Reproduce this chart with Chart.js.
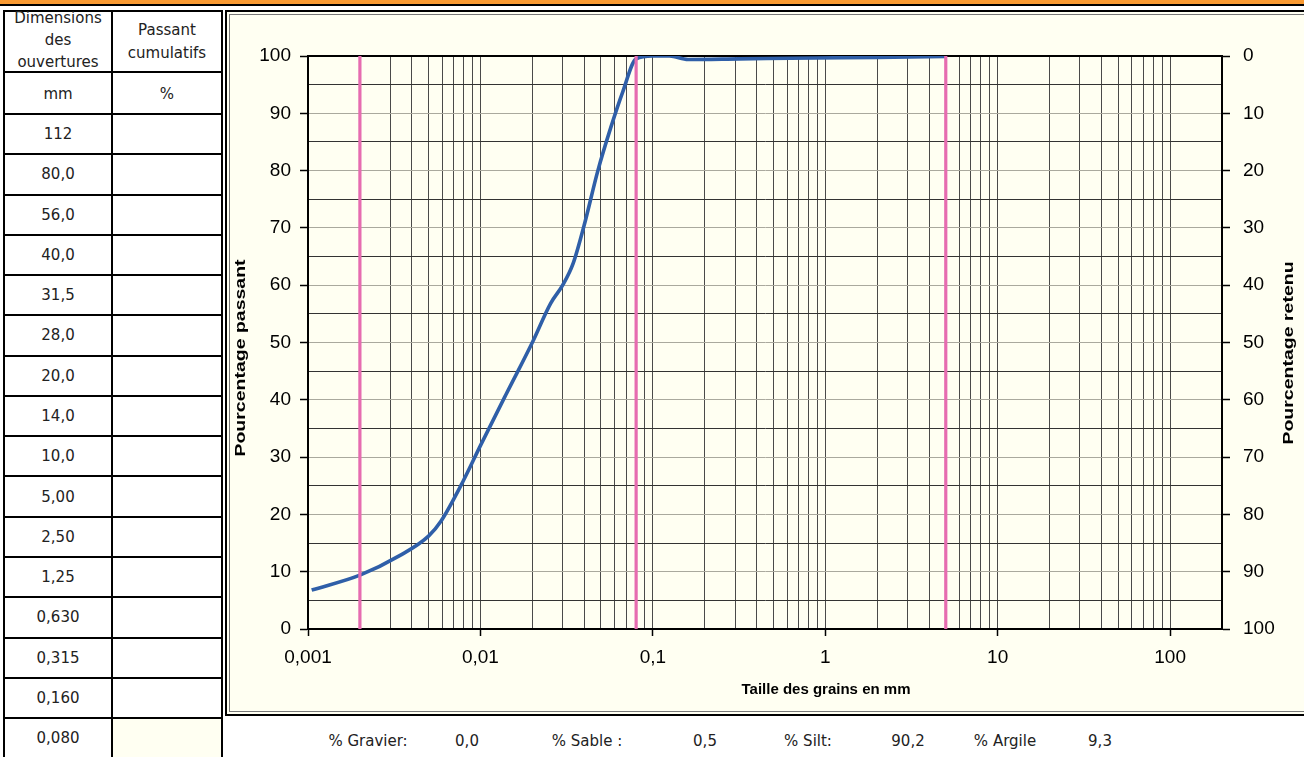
<!DOCTYPE html>
<html>
<head>
<meta charset="utf-8">
<script src="https://cdn.jsdelivr.net/npm/chart.js@4.4.1/dist/chart.umd.min.js"></script>
<style>
html,body{margin:0;padding:0;background:#fff;width:1304px;height:757px;overflow:hidden;position:relative;}
#banner{position:absolute;left:0;top:0;width:1304px;height:4px;background:#f99a32;border-bottom:2px solid #000;}
.hl{position:absolute;height:2px;background:#000;}
.vl{position:absolute;width:2px;background:#000;}
.cell{position:absolute;font-family:'DejaVu Sans',sans-serif;font-size:15px;color:#222;text-align:center;transform:translate(-50%,-50%);white-space:nowrap;line-height:22px;}
#box{position:absolute;left:225px;top:10px;width:1090px;height:702px;border:2px solid #000;background:#fffff2;}
#inner{position:absolute;left:2px;top:2px;right:2px;bottom:2px;border:1px solid #777;}
#c{position:absolute;left:232px;top:15px;}
.sum{position:absolute;top:741px;font-family:'DejaVu Sans',sans-serif;font-size:15px;color:#222;transform:translate(-50%,-50%);white-space:nowrap;}
</style>
</head>
<body>
<div id="banner"></div>
<div id="box"><div id="inner"></div></div>
<canvas id="c" width="1068" height="695"></canvas>
<div id="tbl"></div>
<div id="sumrow"></div>
<script>
// ---------- data ----------
const sieveSizes = ['112','80,0','56,0','40,0','31,5','28,0','20,0','14,0','10,0','5,00','2,50','1,25','0,630','0,315','0,160','0,080'];
const headerCol1 = ['Dimensions','des','ouvertures'];
const headerCol2 = ['Passant','cumulatifs'];
const unitRow = ['mm','%'];
const summaryLabels = ['% Gravier:','% Sable :','% Silt:','% Argile'];
const summaryValues = ['0,0','0,5','90,2','9,3'];

const grainSizes     = [0.00105,0.002,0.0034,0.005,0.0059,0.008,0.01,0.014,0.02,0.0255,0.03,0.0345,0.04,0.048,0.057,0.067,0.08,0.1,0.125,0.16,0.315,0.63,1.25,2.5,5];
const percentPassing = [6.8,9.4,12.8,16.2,18.8,26.0,32.0,40.8,50.0,56.8,60.0,63.8,70.5,80.0,87.5,93.8,99.5,100,100,99.4,99.5,99.6,99.7,99.8,99.9];
const limitSizes = [0.002,0.08,5];

const xDecades = [0.001,0.01,0.1,1,10,100];
const xDecadeLabels = ['0,001','0,01','0,1','1','10','100'];
const xMultipliers = [1,2,3,4,5,6,7,8,9];
const yLeftTicks = [0,10,20,30,40,50,60,70,80,90,100];
const xTitle = 'Taille des grains en mm';
const yLeftTitle = 'Pourcentage passant';
const yRightTitle = 'Pourcentage retenu';

// ---------- table ----------
const tbl = document.getElementById('tbl');
function add(cls, style, text){const d=document.createElement('div');d.className=cls;Object.assign(d.style,style);if(text!==undefined)d.innerHTML=text;tbl.appendChild(d);return d;}
const rowLines=[11,72,114];
const rowH=40.27;
for(let k=1;k<sieveSizes.length;k++) rowLines.push(114+k*rowH);
rowLines.forEach(y=>add('hl',{left:'3px',top:(y-1)+'px',width:'220px'}));
[3,111,221].forEach(x=>add('vl',{left:x+'px',top:'10px',height:'747px'}));
const lastTop = 114+(sieveSizes.length-1)*rowH;
add('',{position:'absolute',left:'113px',top:(lastTop+1)+'px',width:'108px',height:(757-lastTop)+'px',background:'#fffff2'});
const c1=58, c2=167;
add('cell',{left:c1+'px',top:'40px',lineHeight:'22px'},headerCol1.join('<br>'));
add('cell',{left:c2+'px',top:'42px',lineHeight:'23px'},headerCol2.join('<br>'));
add('cell',{left:c1+'px',top:'94px'},unitRow[0]);
add('cell',{left:c2+'px',top:'94px'},unitRow[1]);
sieveSizes.forEach((s,i)=>{const top=114+i*rowH;add('cell',{left:c1+'px',top:(top+rowH/2)+'px'},s);});

// ---------- summary row ----------
const sr=document.getElementById('sumrow');
const sumLabelX=[368,587,808,1005], sumValX=[467,705,908,1100];
summaryLabels.forEach((t,i)=>{
  const a=document.createElement('div');a.className='sum';a.style.left=sumLabelX[i]+'px';a.textContent=t;sr.appendChild(a);
  const b=document.createElement('div');b.className='sum';b.style.left=sumValX[i]+'px';b.textContent=summaryValues[i];sr.appendChild(b);
});

// ---------- chart ----------
const xGridValues=[];
xDecades.forEach(d=>xMultipliers.forEach(m=>{const v=+(d*m).toPrecision(6); if(v<=200) xGridValues.push(v);}));
xGridValues.push(200);
function decadeIndex(v){for(let i=0;i<xDecades.length;i++){if(Math.abs(v/xDecades[i]-1)<1e-6)return i;}return -1;}

const FONT='"Liberation Sans", Arial, sans-serif';
const curve = grainSizes.map((d,i)=>({x:d,y:percentPassing[i]}));
const pinkSets = limitSizes.map(s=>({
  data:[{x:s,y:0},{x:s,y:100}], borderColor:'#e66cb0', borderWidth:3.2, pointRadius:0, order:0, tension:0
}));

const framePlugin={
  id:'frame',
  beforeDatasetsDraw(chart){
    const {ctx,chartArea:a}=chart;
    ctx.save();ctx.strokeStyle='#000';ctx.lineWidth=2;
    ctx.beginPath();ctx.moveTo(a.left,a.top);ctx.lineTo(a.right,a.top);ctx.stroke();
    ctx.restore();
  },
  afterDraw(chart){
    const {ctx}=chart;
    ctx.save();
    ctx.fillStyle='#000';ctx.textAlign='center';ctx.textBaseline='middle';
    ctx.font='bold 15px '+FONT;
    ctx.fillText(xTitle, 826-232, 690-15);
    ctx.save();ctx.translate(241-232,358-15);ctx.rotate(-Math.PI/2);ctx.scale(1.3,1);ctx.fillText(yLeftTitle,0,0);ctx.restore();
    ctx.save();ctx.translate(1289-232,353-15);ctx.rotate(-Math.PI/2);ctx.scale(1.3,1);ctx.fillText(yRightTitle,0,0);ctx.restore();
    ctx.restore();
  }
};

new Chart(document.getElementById('c'),{
  type:'line',
  data:{datasets:[
    {data:curve,borderColor:'#2f5fa8',borderWidth:3.6,pointRadius:0,cubicInterpolationMode:'monotone',order:1},
    ...pinkSets
  ]},
  options:{
    responsive:false,animation:false,devicePixelRatio:1,
    layout:{padding:{top:41,left:0,right:0,bottom:0}},
    plugins:{legend:{display:false},tooltip:{enabled:false}},
    scales:{
      x:{type:'logarithmic',position:'bottom',min:0.001,max:200,bounds:'data',
        afterBuildTicks:s=>{s.ticks=xGridValues.map(v=>({value:v}));},
        afterFit:s=>{s.height=81;},
        ticks:{autoSkip:false,maxRotation:0,minRotation:0,padding:10,color:'#000',font:{family:FONT,size:19},
          callback:(v)=>{const i=decadeIndex(v);return i>=0?xDecadeLabels[i]:'';}},
        grid:{color:'#4a4a4a',lineWidth:1,tickLength:7,tickWidth:1.5,
          tickColor:c=>(c.tick&&decadeIndex(c.tick.value)>=0)?'#000':'rgba(0,0,0,0)'},
        border:{color:'#000',width:2}
      },
      y:{type:'linear',position:'left',min:0,max:100,
        afterFit:s=>{s.width=76;},
        afterBuildTicks:s=>{const t=[];for(let v=0;v<=100;v+=5)t.push({value:v});s.ticks=t;},
        ticks:{stepSize:5,autoSkip:false,padding:9,color:'#000',font:{family:FONT,size:19},
          callback:v=>yLeftTicks.includes(v)?String(v):''},
        grid:{lineWidth:1,tickLength:8,tickWidth:1.5,
          color:c=>(c.tick&&c.tick.value%10===0)?'#aaa99e':'#333',
          tickColor:c=>(c.tick&&c.tick.value%10===0)?'#000':'rgba(0,0,0,0)'},
        border:{color:'#000',width:2}
      },
      y2:{type:'linear',position:'right',reverse:true,min:0,max:100,
        afterFit:s=>{s.width=78;},
        ticks:{stepSize:10,autoSkip:false,padding:13,color:'#000',font:{family:FONT,size:19}},
        grid:{drawOnChartArea:false,tickLength:8,tickWidth:1.5,tickColor:'#000'},
        border:{color:'#000',width:2}
      }
    }
  },
  plugins:[framePlugin]
});
</script>
</body>
</html>
